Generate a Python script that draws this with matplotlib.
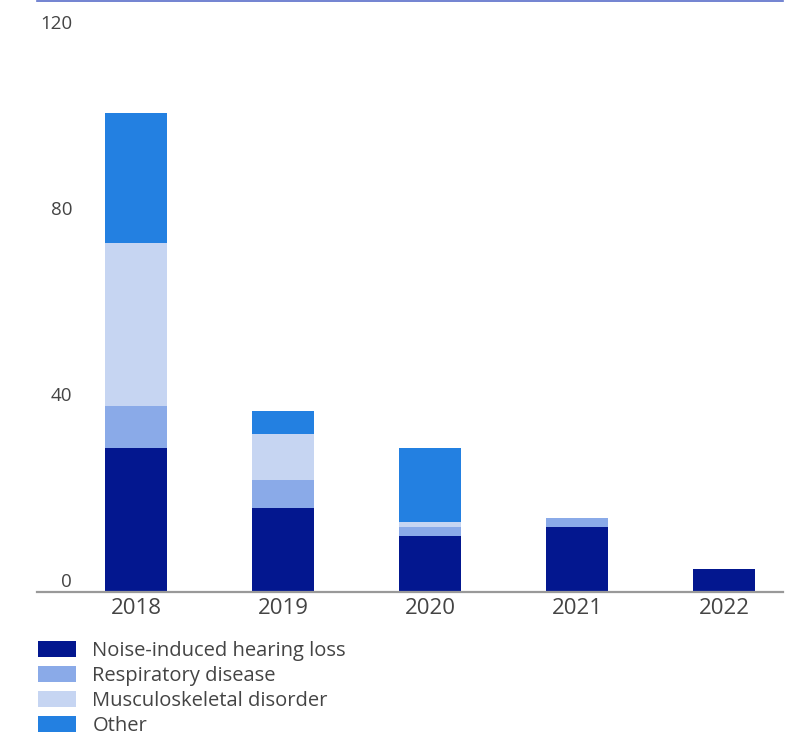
import matplotlib.pyplot as plt
import numpy as np

# Data
years = ["2018", "2019", "2020", "2021", "2022"]
noise = [31, 18, 12, 14, 5]
respiratory = [9, 6, 2, 2, 0]
musculoskeletal = [35, 10, 1, 0, 0]
other = [28, 5, 16, 0, 0]

series = [
    ("Noise-induced hearing loss", noise, "#03178F"),
    ("Respiratory disease", respiratory, "#8AAAE8"),
    ("Musculoskeletal disorder", musculoskeletal, "#C6D5F2"),
    ("Other", other, "#2380E1"),
]
yticks = [0, 40, 80, 120]

plt.rcParams["font.family"] = ["Open Sans", "DejaVu Sans"]
text_color = "#444444"

fig = plt.figure(figsize=(7.97, 7.35), dpi=100)
ax = fig.add_axes([37 / 797, 1 - 592 / 735, 746 / 797, 591 / 735])

x = np.arange(len(years))
bottom = np.zeros(len(years))
handles = []
for name, vals, color in series:
    vals = np.array(vals, dtype=float)
    h = ax.bar(x, vals, width=0.42, bottom=bottom, color=color, label=name, linewidth=0)
    handles.append(h)
    bottom += vals

ax.set_xlim(-0.673, 4.40)
ax.set_ylim(0, 127.1)

# Spines: grey baseline, blue top rule
for side in ["left", "right"]:
    ax.spines[side].set_visible(False)
ax.spines["bottom"].set_color("#999999")
ax.spines["bottom"].set_linewidth(1.6)
ax.spines["top"].set_color("#5A6EC9")
ax.spines["top"].set_linewidth(1.2)

ax.set_xticks(x)
ax.set_xticklabels(years, fontsize=16, color=text_color)
ax.tick_params(axis="x", length=0, pad=4)
ax.set_yticks([])

# y labels sit just above their value, near the left edge
for v in yticks:
    ax.annotate(str(v), xy=(0, v), xycoords=("axes fraction", "data"),
                xytext=(35, 1), textcoords="offset pixels",
                ha="right", va="bottom", fontsize=13.5, color=text_color)

fig.legend(handles=handles, labels=[s[0] for s in series],
           loc="upper left", bbox_to_anchor=(30 / 797, 1 - 633 / 735),
           frameon=False, fontsize=14.5, labelcolor=text_color,
           handlelength=1.9, handleheight=0.8, handletextpad=0.8,
           labelspacing=0.25, borderaxespad=0)

fig.savefig("out.png", dpi=100)
